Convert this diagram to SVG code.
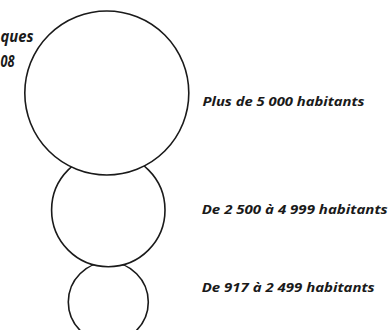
<svg xmlns="http://www.w3.org/2000/svg" width="390" height="330" viewBox="0 0 390 330">
<style>
.c{fill:#fff;stroke:#1a1a1a;stroke-width:1.6}
.t{font-family:"Open Sans","Liberation Sans",sans-serif;font-style:italic;font-weight:700;font-size:12.5px;fill:#1a1a1a}
.h{font-size:16.5px}
</style>
<rect width="390" height="330" fill="#fff"/>
<g id="title">
<text class="t h" x="0.5" y="41.5" textLength="33" lengthAdjust="spacingAndGlyphs">ques</text>
<text class="t h" x="0.5" y="66.5" textLength="14" lengthAdjust="spacingAndGlyphs">08</text>
</g>
<g id="small">
<circle class="c" cx="108.3" cy="302" r="40"/>
</g>
<g id="medium">
<circle class="c" cx="108.3" cy="210" r="56.7"/>
</g>
<g id="large">
<circle class="c" cx="106.8" cy="93" r="82"/>
</g>
<g id="labels">
<text class="t" x="202.5" y="105.5" textLength="162" lengthAdjust="spacingAndGlyphs">Plus de 5 000 habitants</text>
<text class="t" x="201.7" y="214" textLength="186" lengthAdjust="spacingAndGlyphs">De 2 500 à 4 999 habitants</text>
<text class="t" x="201.7" y="291.5" textLength="173" lengthAdjust="spacingAndGlyphs">De 917 à 2 499 habitants</text>
</g>
</svg>
